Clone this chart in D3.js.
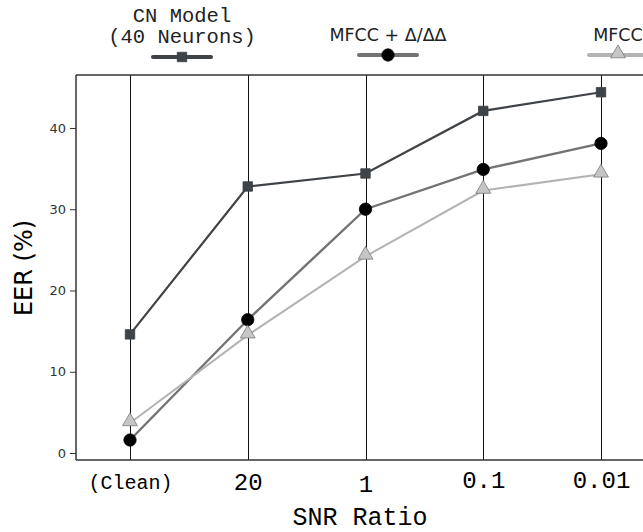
<!DOCTYPE html>
<html>
<head>
<meta charset="utf-8">
<title>EER vs SNR</title>
<script src="https://cdnjs.cloudflare.com/ajax/libs/d3/7.8.5/d3.min.js"></script>
<style>
  body { margin: 0; background: #fff; }
  svg { display: block; }
</style>
</head>
<body>
<div id="chart"></div>
<script>
// categories along the x axis and the series
var categories = ["(Clean)", "20", "1", "0.1", "0.01"];
var yTicks = [0, 10, 20, 30, 40];

var cnModel  = [14.6, 32.8, 34.4, 42.1, 44.4];
var mfccDelta = [1.6, 16.4, 30.0, 34.9, 38.1];
var mfcc     = [3.7, 14.5, 24.2, 32.3, 34.3];

var w = 643, h = 532;

var svg = d3.select("#chart").append("svg")
  .attr("width", w)
  .attr("height", h);

// plot box
var boxLeft = 76, boxTop = 75, boxBottom = 460;

var x = d3.scaleLinear().domain([-0.4586, 4]).range([boxLeft, 601]);
var y = d3.scaleLinear().domain([-0.86, 46.52]).range([boxBottom, boxTop]);

// vertical guide lines, one per category (snapped so they stay crisp)
svg.append("g").selectAll("line")
  .data(categories)
  .enter().append("line")
  .attr("x1", function(d, i) { return Math.round(x(i)) + 0.5; })
  .attr("x2", function(d, i) { return Math.round(x(i)) + 0.5; })
  .attr("y1", boxTop)
  .attr("y2", boxBottom)
  .attr("stroke", "#111")
  .attr("stroke-width", 1);

// spines
svg.append("line").attr("x1", boxLeft).attr("x2", w + 5).attr("y1", boxTop).attr("y2", boxTop)
  .attr("stroke", "#333").attr("stroke-width", 1.5);
svg.append("line").attr("x1", boxLeft).attr("x2", w + 5).attr("y1", boxBottom).attr("y2", boxBottom)
  .attr("stroke", "#333").attr("stroke-width", 1.5);

// y axis
var yAxis = svg.append("g")
  .attr("transform", "translate(" + boxLeft + ",0)")
  .call(d3.axisLeft(y).tickValues(yTicks).tickSize(6).tickPadding(4));
yAxis.select(".domain").attr("stroke", "#333").attr("stroke-width", 1.5)
  .attr("d", "M0," + boxTop + "V" + boxBottom);
yAxis.selectAll(".tick line").attr("stroke", "#333").attr("stroke-width", 1);
yAxis.selectAll(".tick text")
  .attr("font-family", "DejaVu Sans")
  .attr("font-size", 13)
  .attr("fill", "#333");

// x axis labels (no tick marks, the guide lines do that job)
var labelSize = [20, 24, 24, 24, 24];
var labelShift = [0, 0, 2, -2, -1.5];
var xAxis = svg.append("g")
  .attr("transform", "translate(0," + boxBottom + ")")
  .call(d3.axisBottom(x).tickValues(d3.range(categories.length))
    .tickFormat(function(i) { return categories[i]; })
    .tickSize(0).tickPadding(0));
xAxis.select(".domain").remove();
xAxis.selectAll(".tick text")
  .attr("font-family", "Liberation Mono")
  .attr("font-size", function(d, i) { return labelSize[i]; })
  .attr("fill", "#000")
  .attr("y", function(d, i) { return 21.5 + labelShift[i]; })
  .attr("dy", "0.35em");

// axis titles
svg.append("text")
  .attr("x", 360).attr("y", 525)
  .attr("text-anchor", "middle")
  .attr("font-family", "Liberation Mono")
  .attr("font-size", 25)
  .text("SNR Ratio");

svg.append("text")
  .attr("transform", "translate(32,268) rotate(-90)")
  .attr("text-anchor", "middle")
  .attr("font-family", "DejaVu Sans")
  .attr("font-size", 24)
  .text("EER (%)");

// series
var series = [
  { name: "cn", values: cnModel, line: "#3f4347", width: 2.2, symbol: d3.symbolSquare, size: 90,
    fill: "#3e4347", stroke: "#3e4347", dy: 0 },
  { name: "delta", values: mfccDelta, line: "#737373", width: 2.4, symbol: d3.symbolCircle, size: 120,
    fill: "#000", stroke: "#000", dy: 0 },
  { name: "mfcc", values: mfcc, line: "#b3b3b3", width: 2, symbol: d3.symbolTriangle, size: 95,
    fill: "#c6c6c6", stroke: "#7a7a7a", dy: -1.5 }
];

var line = d3.line()
  .x(function(d, i) { return x(i); })
  .y(function(d) { return y(d); });

series.forEach(function(s) {
  svg.append("path")
    .datum(s.values)
    .attr("d", line)
    .attr("fill", "none")
    .attr("stroke", s.line)
    .attr("stroke-width", s.width);
});

series.forEach(function(s) {
  svg.append("g").selectAll("path")
    .data(s.values)
    .enter().append("path")
    .attr("d", d3.symbol().type(s.symbol).size(s.size))
    .attr("transform", function(d, i) { return "translate(" + x(i) + "," + (y(d) + s.dy) + ")"; })
    .attr("fill", s.fill)
    .attr("stroke", s.stroke)
    .attr("stroke-width", 0.8);
});

// legend across the top
var legend = [
  { s: series[0], cx: 182, ly: 57, lines: ["CN Model", "(40 Neurons)"], font: "Liberation Mono", fs: 20.5, ty: [22, 43] },
  { s: series[1], cx: 388, ly: 55, lines: ["MFCC + \u0394/\u0394\u0394"], font: "DejaVu Sans", fs: 17.5, ty: [41] },
  { s: series[2], cx: 618, ly: 55, lines: ["MFCC"], font: "DejaVu Sans", fs: 17.5, ty: [41] }
];

legend.forEach(function(l) {
  var g = svg.append("g");
  l.lines.forEach(function(t, k) {
    g.append("text")
      .attr("x", l.cx).attr("y", l.ty[k])
      .attr("text-anchor", "middle")
      .attr("font-family", l.font)
      .attr("font-size", l.fs)
      .attr("fill", "#222")
      .text(t);
  });
  g.append("line")
    .attr("x1", l.cx - 29).attr("x2", l.cx + 29)
    .attr("y1", l.ly).attr("y2", l.ly)
    .attr("stroke", l.s.line)
    .attr("stroke-width", 4)
    .attr("stroke-linecap", "round");
  g.append("path")
    .attr("d", d3.symbol().type(l.s.symbol).size(l.s.size))
    .attr("transform", "translate(" + l.cx + "," + (l.ly + l.s.dy) + ")")
    .attr("fill", l.s.fill)
    .attr("stroke", l.s.stroke)
    .attr("stroke-width", 0.8);
});
</script>
</body>
</html>
